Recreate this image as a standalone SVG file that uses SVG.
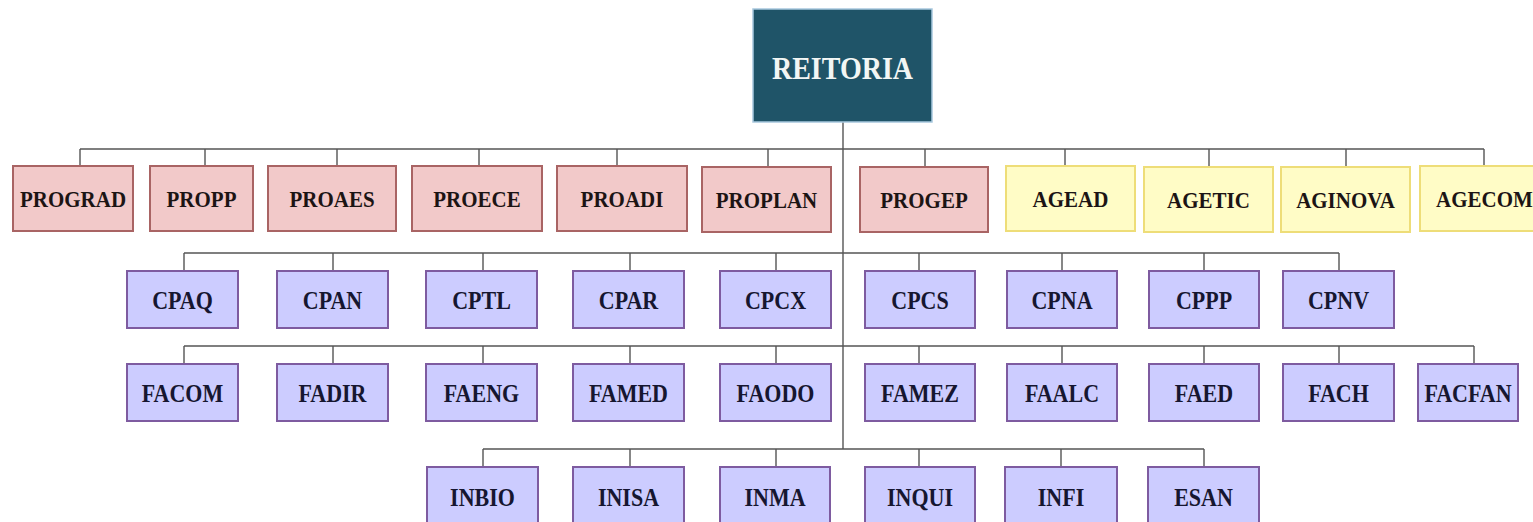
<svg xmlns="http://www.w3.org/2000/svg" width="1533" height="522" viewBox="0 0 1533 522">
<style>
text{font-family:"Liberation Serif","Times New Roman",serif;font-weight:bold;text-anchor:middle;transform-box:fill-box;transform-origin:center;transform:scaleY(1.12)}
.pr rect{fill:#f2c9c9;stroke:#a96464;stroke-width:2}
.ag rect{fill:#fffcc6;stroke:#eedd78;stroke-width:2}
.pu rect{fill:#ccccff;stroke:#7e5ba0;stroke-width:2}
.pr text,.ag text{font-size:21px;fill:#1c1414}
.pu text{font-size:22px;fill:#161630}
#conn path{fill:none;stroke:#555;stroke-width:1.4}
</style>
<rect width="1533" height="522" fill="#fff"/>
<g id="conn">
<path d="M843 122V449"/>
<path d="M80 149H1484M80 149V166M205 149V166M337 149V166M479 149V166M617 149V166M768 149V166M925 149V166M1065 149V166M1209 149V166M1346 149V166M1484 149V166"/>
<path d="M184 253H1339M184 253V271M333 253V271M483 253V271M630 253V271M776 253V271M919 253V271M1062 253V271M1204 253V271M1339 253V271"/>
<path d="M184 346H1474M184 346V364M333 346V364M483 346V364M630 346V364M776 346V364M919 346V364M1062 346V364M1204 346V364M1339 346V364M1474 346V364"/>
<path d="M483 449H1204M483 449V467M630 449V467M776 449V467M919 449V467M1061 449V467M1204 449V467"/>
</g>
<g id="reitoria"><rect x="753" y="9" width="179" height="113" fill="#1f5468" stroke="#a8c8de" stroke-width="1.5"/><text x="842.5" y="78" font-size="28" fill="#f2f6f4">REITORIA</text></g>
<g id="prograd" class="pr"><rect x="13" y="166" width="120" height="65"/><text x="73" y="206">PROGRAD</text></g>
<g id="propp" class="pr"><rect x="150" y="166" width="103" height="65"/><text x="201.5" y="206">PROPP</text></g>
<g id="proaes" class="pr"><rect x="268" y="166" width="128" height="65"/><text x="332" y="206">PROAES</text></g>
<g id="proece" class="pr"><rect x="412" y="166" width="130" height="65"/><text x="477" y="206">PROECE</text></g>
<g id="proadi" class="pr"><rect x="557" y="166" width="130" height="65"/><text x="622" y="206">PROADI</text></g>
<g id="proplan" class="pr"><rect x="702" y="167" width="129" height="65"/><text x="766.5" y="207">PROPLAN</text></g>
<g id="progep" class="pr"><rect x="860" y="167" width="128" height="65"/><text x="924" y="207">PROGEP</text></g>
<g id="agead" class="ag"><rect x="1006" y="166" width="129" height="65"/><text x="1070.5" y="206">AGEAD</text></g>
<g id="agetic" class="ag"><rect x="1144" y="167" width="129" height="65"/><text x="1208.5" y="207">AGETIC</text></g>
<g id="aginova" class="ag"><rect x="1281" y="167" width="129" height="65"/><text x="1345.5" y="207">AGINOVA</text></g>
<g id="agecom" class="ag"><rect x="1420" y="166" width="129" height="65"/><text x="1484.5" y="206">AGECOM</text></g>
<g id="cpaq" class="pu"><rect x="127" y="271" width="111" height="57"/><text x="182.5" y="308">CPAQ</text></g>
<g id="cpan" class="pu"><rect x="277" y="271" width="111" height="57"/><text x="332.5" y="308">CPAN</text></g>
<g id="cptl" class="pu"><rect x="426" y="271" width="111" height="57"/><text x="481.5" y="308">CPTL</text></g>
<g id="cpar" class="pu"><rect x="573" y="271" width="111" height="57"/><text x="628.5" y="308">CPAR</text></g>
<g id="cpcx" class="pu"><rect x="720" y="271" width="111" height="57"/><text x="775.5" y="308">CPCX</text></g>
<g id="cpcs" class="pu"><rect x="865" y="271" width="110" height="57"/><text x="920" y="308">CPCS</text></g>
<g id="cpna" class="pu"><rect x="1007" y="271" width="110" height="57"/><text x="1062" y="308">CPNA</text></g>
<g id="cppp" class="pu"><rect x="1149" y="271" width="110" height="57"/><text x="1204" y="308">CPPP</text></g>
<g id="cpnv" class="pu"><rect x="1283" y="271" width="111" height="57"/><text x="1338.5" y="308">CPNV</text></g>
<g id="facom" class="pu"><rect x="127" y="364" width="111" height="57"/><text x="182.5" y="401">FACOM</text></g>
<g id="fadir" class="pu"><rect x="277" y="364" width="111" height="57"/><text x="332.5" y="401">FADIR</text></g>
<g id="faeng" class="pu"><rect x="426" y="364" width="111" height="57"/><text x="481.5" y="401">FAENG</text></g>
<g id="famed" class="pu"><rect x="573" y="364" width="111" height="57"/><text x="628.5" y="401">FAMED</text></g>
<g id="faodo" class="pu"><rect x="720" y="364" width="111" height="57"/><text x="775.5" y="401">FAODO</text></g>
<g id="famez" class="pu"><rect x="865" y="364" width="110" height="57"/><text x="920" y="401">FAMEZ</text></g>
<g id="faalc" class="pu"><rect x="1007" y="364" width="110" height="57"/><text x="1062" y="401">FAALC</text></g>
<g id="faed" class="pu"><rect x="1149" y="364" width="110" height="57"/><text x="1204" y="401">FAED</text></g>
<g id="fach" class="pu"><rect x="1283" y="364" width="111" height="57"/><text x="1338.5" y="401">FACH</text></g>
<g id="facfan" class="pu"><rect x="1418" y="364" width="100" height="57"/><text x="1468" y="401">FACFAN</text></g>
<g id="inbio" class="pu"><rect x="427" y="467" width="111" height="58"/><text x="482.5" y="505">INBIO</text></g>
<g id="inisa" class="pu"><rect x="573" y="467" width="111" height="58"/><text x="628.5" y="505">INISA</text></g>
<g id="inma" class="pu"><rect x="720" y="467" width="110" height="58"/><text x="775" y="505">INMA</text></g>
<g id="inqui" class="pu"><rect x="865" y="467" width="110" height="58"/><text x="920" y="505">INQUI</text></g>
<g id="infi" class="pu"><rect x="1005" y="467" width="112" height="58"/><text x="1061" y="505">INFI</text></g>
<g id="esan" class="pu"><rect x="1148" y="467" width="111" height="58"/><text x="1203.5" y="505">ESAN</text></g>
</svg>
